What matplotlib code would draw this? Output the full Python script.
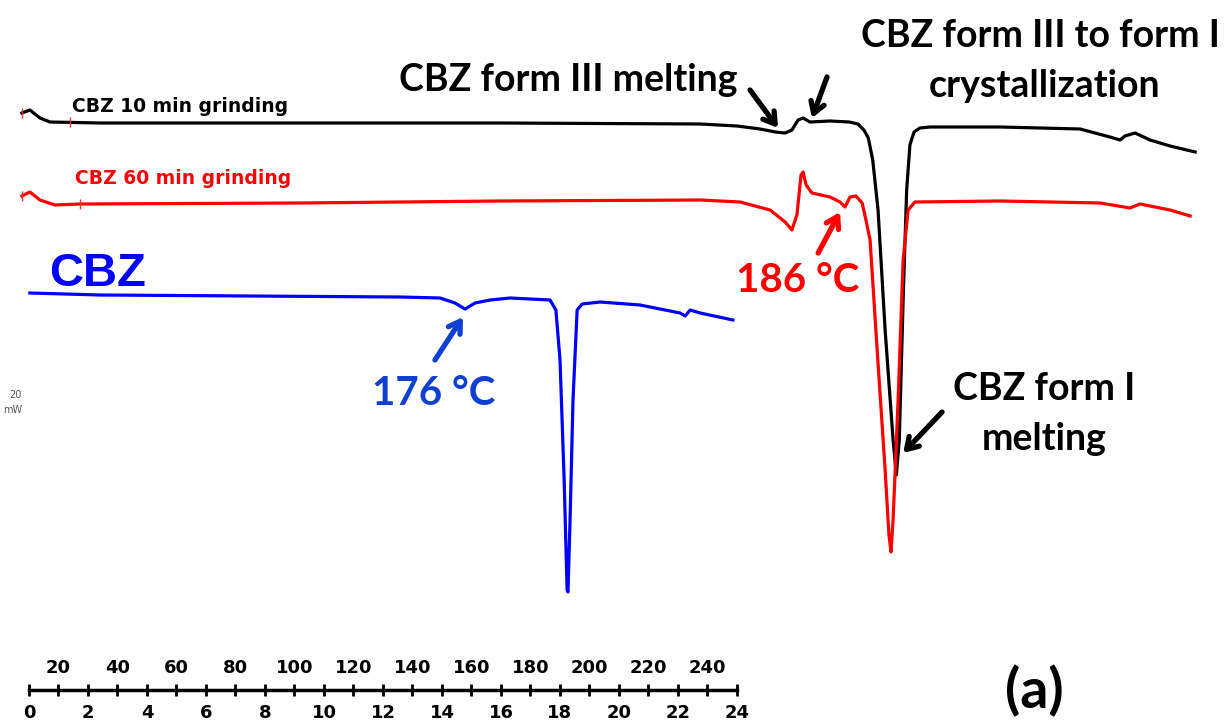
import numpy as np
import matplotlib
matplotlib.use("Agg")
import matplotlib.pyplot as plt

# temperature (deg C) and heat flow (mW, offset per trace)
t_10min = [7.6, 10.3, 13.7, 17.1, 34.1, 101.9, 169.7, 237.5, 250.0, 257.8, 263.0, 266.3,
           268.6, 270.7, 272.4, 274.7, 281.5, 288.0, 291.0, 293.0, 294.5, 296.0, 297.8,
           300.2, 302.9, 304.0, 305.0, 306.3, 307.5, 308.6, 310.0, 312.0, 315.4, 339.2,
           366.3, 376.4, 379.8, 381.5, 384.9, 390.0, 396.8, 405.3]
hf_10min = [-11.3, -11.0, -11.8, -12.2, -12.3, -12.3, -12.3, -12.4, -12.6, -12.9, -13.2, -13.3,
            -13.0, -12.0, -11.8, -12.2, -12.1, -12.2, -12.4, -13.0, -13.8, -16.0, -21.0,
            -33.0, -44.0, -47.5, -44.0, -30.0, -19.0, -14.5, -13.2, -12.8, -12.7, -12.7,
            -12.9, -13.7, -14.0, -13.6, -13.3, -14.0, -14.6, -15.2]

t_60min = [7.6, 10.3, 13.7, 18.8, 27.3, 101.9, 169.7, 237.5, 251.0, 261.2, 266.3, 268.6,
           270.3, 271.7, 272.4, 273.4, 275.4, 281.5, 284.9, 286.6, 288.3, 290.3, 292.4,
           293.7, 295.1, 297.5, 300.2, 301.5, 302.2, 302.9, 304.6, 306.3, 308.0, 310.3,
           339.2, 373.1, 383.2, 386.6, 390.0, 396.8, 403.6]
hf_60min = [-19.6, -19.2, -20.0, -20.5, -20.4, -20.3, -20.1, -20.0, -20.2, -21.0, -22.2, -23.0,
            -21.5, -17.5, -17.2, -18.5, -19.3, -19.7, -20.2, -20.7, -19.7, -19.6, -20.3,
            -22.0, -24.0, -35.0, -47.0, -53.5, -55.2, -52.0, -40.0, -26.0, -21.0, -20.2,
            -20.1, -20.3, -20.8, -20.4, -20.6, -21.0, -21.6]

t_cbz = [10.3, 34.1, 135.8, 149.3, 154.4, 157.8, 161.2, 166.3, 173.1, 186.6, 188.6, 190.0,
         191.4, 192.4, 192.7, 193.4, 194.4, 195.8, 197.5, 203.6, 217.1, 230.7, 232.4,
         234.1, 237.5, 248.6]
hf_cbz = [-29.3, -29.5, -29.7, -29.8, -30.3, -30.9, -30.3, -30.0, -29.8, -30.0, -31.0, -36.0,
          -48.0, -59.0, -59.2, -52.0, -40.0, -31.0, -30.4, -30.2, -30.5, -31.3, -31.6,
          -31.0, -31.3, -32.0]

# red integration-limit marks on the ground samples
mark_t_10min = [7.6, 23.9]
mark_hf_10min = [-11.3, -12.2]
mark_t_60min = [7.6, 27.3]
mark_hf_60min = [-19.6, -20.4]

time_ticks = list(range(0, 25))
time_labels = [str(t) if t % 2 == 0 else "" for t in time_ticks]
temp_ticks = list(range(20, 241, 20))

fig = plt.figure(figsize=(12.3, 7.27), dpi=100)
ax = fig.add_axes([0, 0, 1, 1])
ax.set_xlim(0.17, 417.1)
ax.set_ylim(-72.7, 0)
ax.axis("off")

ax.plot(t_10min, hf_10min, color="black", lw=2.3, solid_joinstyle="round")
ax.plot(t_60min, hf_60min, color="#ff0000", lw=2.3, solid_joinstyle="round")
ax.plot(t_cbz, hf_cbz, color="#0000ff", lw=2.3, solid_joinstyle="round")
ax.plot(mark_t_10min, mark_hf_10min, ls="none", marker="|", ms=7, mew=1, color="#ff3030")
ax.plot(mark_t_60min, mark_hf_60min, ls="none", marker="|", ms=7, mew=1, color="#ff3030")

bold = dict(family="Lato", weight="bold")
ax.text(192.7, -9.1, "CBZ form III melting", fontsize=27, ha="center", va="baseline", **bold)
ax.text(352.7, -4.7, "CBZ form III to form I", fontsize=27, ha="center", va="baseline", **bold)
ax.text(354.4, -9.7, "crystallization", fontsize=27, ha="center", va="baseline", **bold)
ax.text(354.1, -40.0, "CBZ form I", fontsize=27, ha="center", va="baseline", **bold)
ax.text(354.1, -45.0, "melting", fontsize=27, ha="center", va="baseline", **bold)
ax.text(270.7, -29.2, "186 °C", fontsize=29, color="#ff0000", ha="center", va="baseline", **bold)
ax.text(147.0, -40.5, "176 °C", fontsize=29, color="#1040d0", ha="center", va="baseline", **bold)
ax.text(350.7, -70.8, "(a)", fontsize=40, ha="center", va="baseline", **bold)
ax.text(33.1, -28.6, "CBZ", fontsize=34, color="#0000ff", ha="center", va="baseline",
        family="Liberation Sans", weight="bold")
ax.text(24.6, -11.2, "CBZ 10 min grinding", fontsize=13.5, ha="left", va="baseline",
        family="DejaVu Sans", weight="bold")
ax.text(25.6, -18.4, "CBZ 60 min grinding", fontsize=13.5, color="#ff0000", ha="left",
        va="baseline", family="DejaVu Sans", weight="bold")

fig.text(22 / 1230, 1 - 398 / 727, "20", fontsize=7, color="#555555", ha="right", va="baseline")
fig.text(22 / 1230, 1 - 413 / 727, "mW", fontsize=7, color="#555555", ha="right", va="baseline")


def arrow(tail, head, color):
    ax.annotate("", xy=head, xytext=tail,
                arrowprops=dict(arrowstyle="->,head_length=0.8,head_width=0.5",
                                color=color, lw=3.8, shrinkA=0, shrinkB=0))


arrow((254.4, -9.0), (263.9, -12.8), "black")
arrow((280.5, -7.7), (275.4, -11.8), "black")
arrow((277.5, -25.3), (284.9, -21.2), "#ff0000")
arrow((147.6, -36.0), (157.1, -31.7), "#1040d0")
arrow((319.5, -41.2), (306.3, -45.3), "black")

# time axis with temperature labels on top
axt = fig.add_axes([29 / 1230, 1 - 690 / 727, 708 / 1230, 0.0001])
axt.set_xlim(0, 24)
axt.set_yticks([])
for s in ["top", "left", "right"]:
    axt.spines[s].set_visible(False)
axt.spines["bottom"].set_linewidth(2.5)
axt.set_xticks(time_ticks)
axt.set_xticklabels(time_labels)
axt.tick_params(axis="x", direction="inout", length=8, width=2, pad=6, labelsize=13)
for lab in axt.get_xticklabels():
    lab.set_fontweight("bold")
sec = axt.secondary_xaxis("top", functions=(lambda t: 10 * np.asarray(t) + 10,
                                             lambda T: (np.asarray(T) - 10) / 10))
sec.set_xticks(temp_ticks)
sec.spines["top"].set_visible(False)
sec.tick_params(axis="x", length=0, pad=9, labelsize=13)
for lab in sec.get_xticklabels():
    lab.set_fontweight("bold")

fig.savefig("out.png", dpi=100)
